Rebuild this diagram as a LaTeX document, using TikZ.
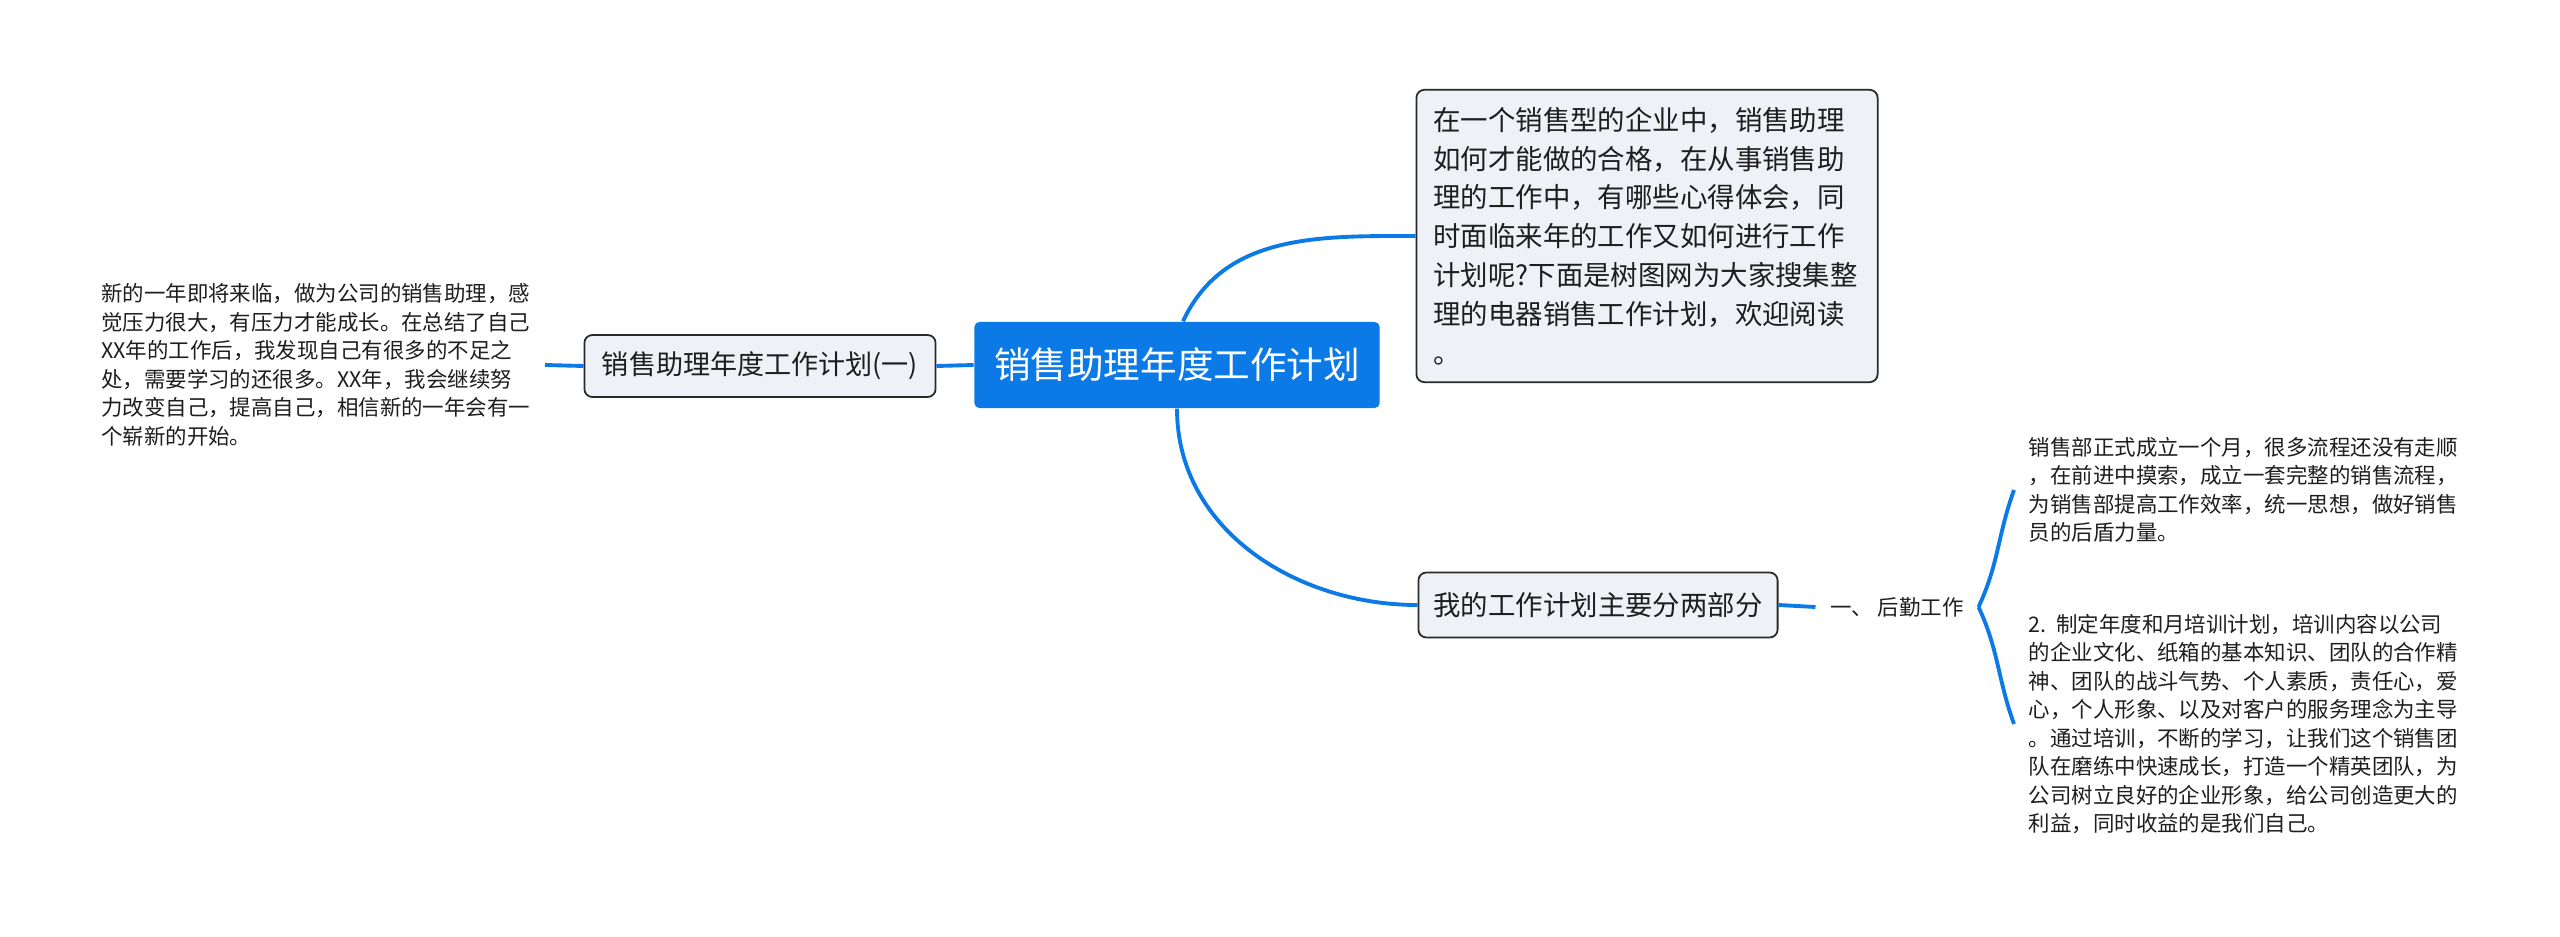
\documentclass[tikz,border=0pt]{standalone}
\usepackage{fontspec}
\setmainfont{Noto Sans CJK SC}
\usepackage{tikz}
\usetikzlibrary{positioning}

\definecolor{mapblue}{HTML}{0B79E6}
\definecolor{boxfill}{HTML}{EEF1F5}
\definecolor{boxline}{HTML}{2A2A2A}
\definecolor{ink}{HTML}{1E1E1E}

\begin{document}
\begin{tikzpicture}
      [x=0.01cm, y=-0.01cm,
       link/.style={draw=mapblue, line width=1.1pt},
       central/.style={fill=mapblue, rounded corners=0.05cm, text=white,
                       minimum width=4.05cm, minimum height=0.86cm,
                       font=\fontsize{10.4}{12}\selectfont},
       topic/.style={draw=boxline, line width=0.5pt, fill=boxfill, rounded corners=0.08cm,
                     text=ink, font=\fontsize{7.7}{9}\selectfont},
       note/.style={text=ink, align=left, inner sep=4pt,
                    font=\fontsize{6.1}{8.1}\selectfont}]
      \useasboundingbox [fill=white] (0,0) rectangle (2560,937);

      \node [central] (plan)  at (1177, 365) {销售助理年度工作计划};
      \node [topic, minimum width=3.51cm, minimum height=0.62cm] (part1) at (760, 366)
            {销售助理年度工作计划(一)};
      \node [topic, minimum width=4.61cm, minimum height=2.86cm, text width=4.27cm,
             inner sep=0.17cm, align=left, font=\fontsize{7.8}{11.06}\selectfont] (intro) at (1647, 236)
            {在一个销售型的企业中，销售助理\\如何才能做的合格，在从事销售助\\理的工作中，有哪些心得体会，同\\时面临来年的工作又如何进行工作\\计划呢?下面是树图网为大家搜集整\\理的电器销售工作计划，欢迎阅读\\。};
      \node [topic, minimum width=3.59cm, minimum height=0.65cm, font=\fontsize{7.8}{9}\selectfont] (twoparts) at (1598, 605)
            {我的工作计划主要分两部分};
      \node [note, anchor=east] (newyear) at (545, 365)
            {新的一年即将来临，做为公司的销售助理，感\\觉压力很大，有压力才能成长。在总结了自己\\XX年的工作后，我发现自己有很多的不足之\\处，需要学习的还很多。XX年，我会继续努\\力改变自己，提高自己，相信新的一年会有一\\个崭新的开始。};
      \node [note] (logistics) at (1897, 607) {一、\ 后勤工作};
      \node [note, anchor=west] (dept) at (2014, 490)
            {销售部正式成立一个月，很多流程还没有走顺\\，在前进中摸索，成立一套完整的销售流程，\\为销售部提高工作效率，统一思想，做好销售\\员的后盾力量。};
      \node [note, anchor=west] (training) at (2014, 724)
            {2.\ \ 制定年度和月培训计划，培训内容以公司\\的企业文化、纸箱的基本知识、团队的合作精\\神、团队的战斗气势、个人素质，责任心，爱\\心，个人形象、以及对客户的服务理念为主导\\。通过培训，不断的学习，让我们这个销售团\\队在磨练中快速成长，打造一个精英团队，为\\公司树立良好的企业形象，给公司创造更大的\\利益，同时收益的是我们自己。};

      \draw [link] (part1.east) to (plan.west);
      \draw [link] (part1.west) to (newyear.east);
      \draw [link] ([xshift=0.06cm]plan.north) to [out=65, in=180] (intro.west);
      \draw [link] (plan.south) to [out=270, in=180] (twoparts.west);
      \draw [link] (twoparts.east) to (logistics.west);
      \draw [link] (logistics.east) to [out=65, in=250] (dept.west);
      \draw [link] (logistics.east) to [out=295, in=110] (training.west);
    \end{tikzpicture}
\end{document}
